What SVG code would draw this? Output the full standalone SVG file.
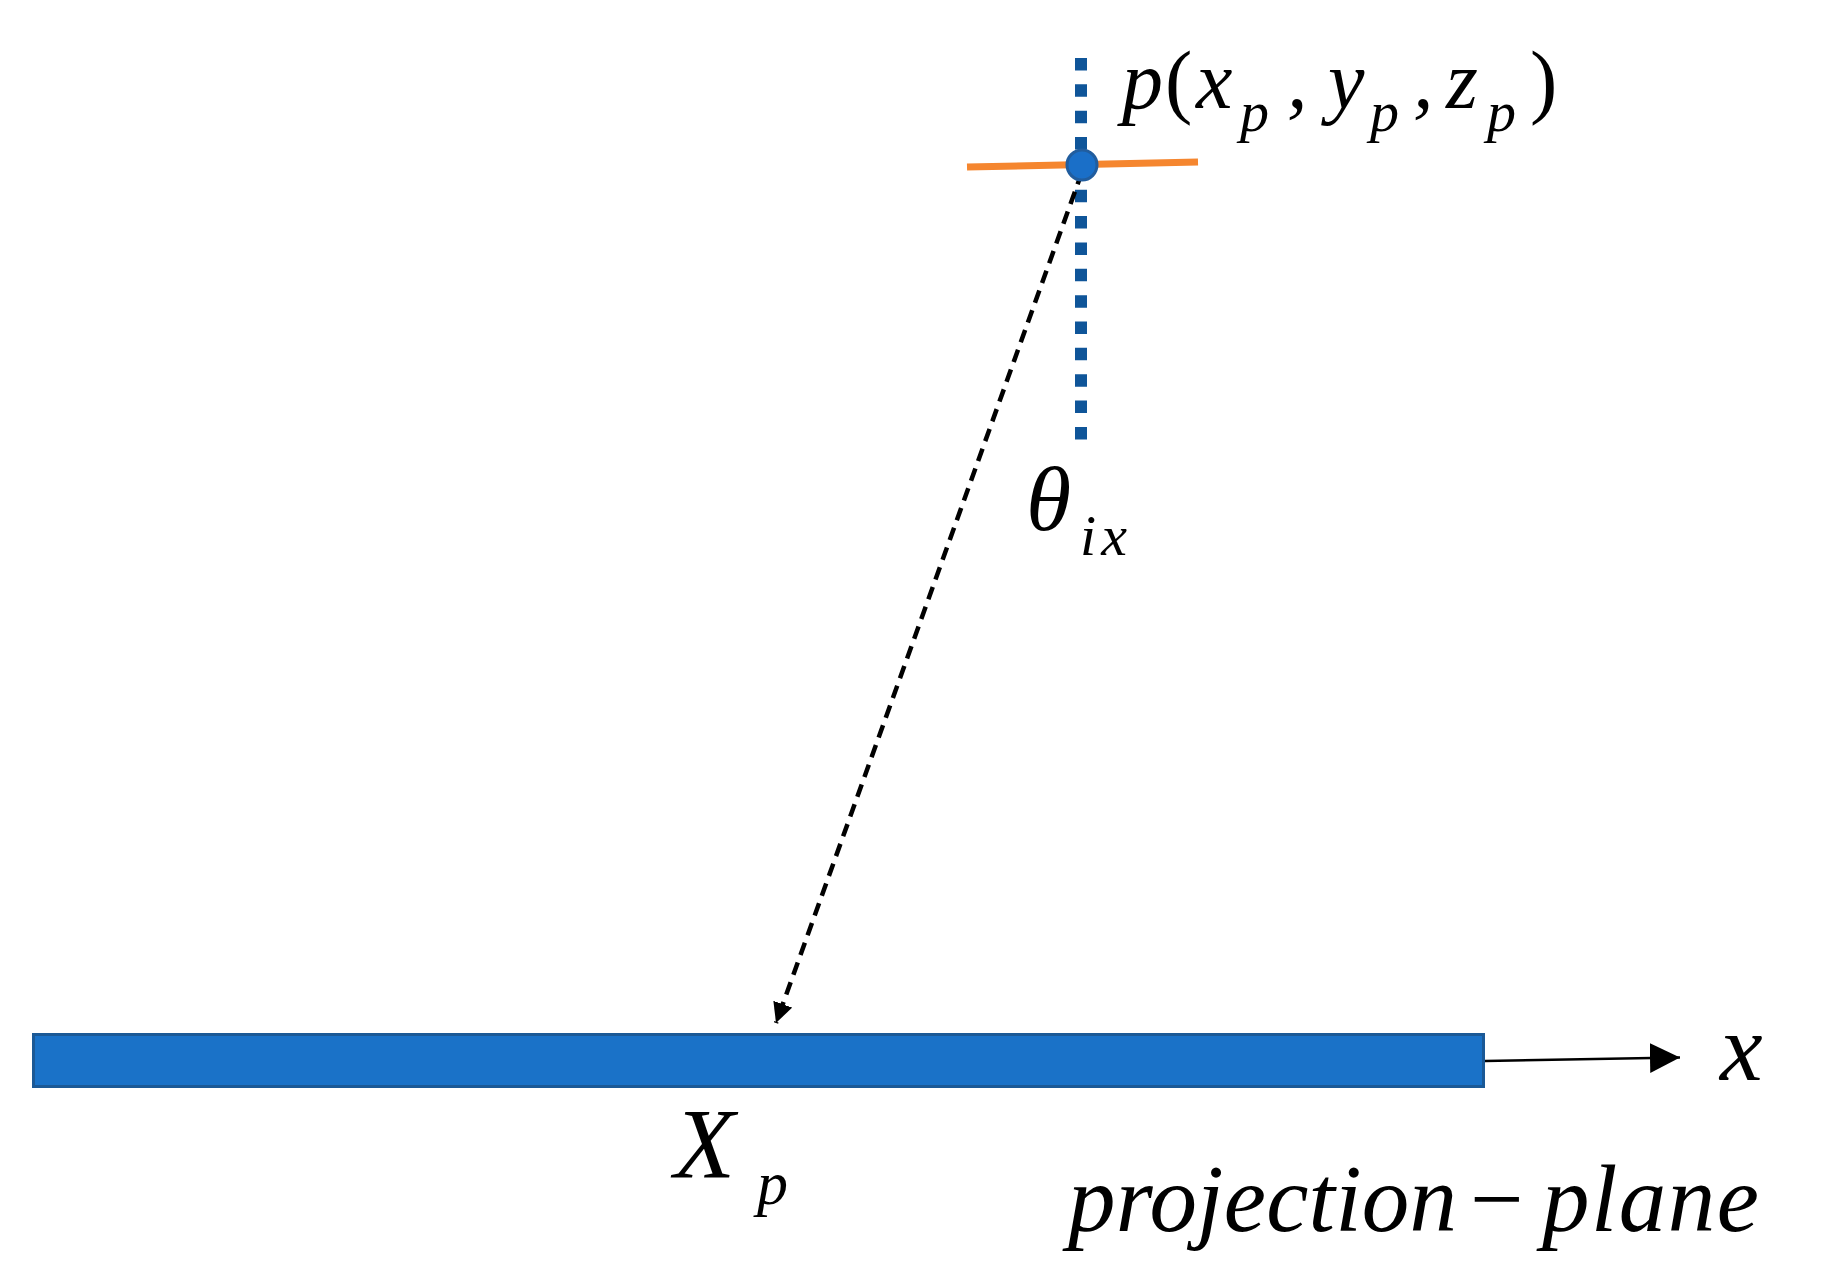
<svg xmlns="http://www.w3.org/2000/svg" width="1821" height="1282" viewBox="0 0 1821 1282">
<style>
.t{font-family:'Liberation Serif','DejaVu Serif',serif;font-style:italic;fill:#000}
.u{font-style:normal}
.m{font-size:82px}
.b{font-size:92px}
.s{font-size:58px}
</style>
<defs>
<marker id="ah" markerUnits="userSpaceOnUse" markerWidth="24" markerHeight="22" refX="20" refY="10" orient="auto">
<path d="M0,0 L20,10 L0,20 z" fill="#000"/>
</marker>
<marker id="ax" markerUnits="userSpaceOnUse" markerWidth="32" markerHeight="32" refX="30" refY="15" orient="auto">
<path d="M0,0 L30,15 L0,30 z" fill="#000"/>
</marker>
</defs>
<rect width="1821" height="1282" fill="#fff"/>
<g id="plane">
<rect x="33.5" y="1034.5" width="1450" height="52" fill="#1a72c8" stroke="#1b5996" stroke-width="3"/>
</g>
<g id="connectors">
<line x1="1081" y1="58" x2="1081" y2="440" stroke="#0f5599" stroke-width="12" stroke-dasharray="12.5 13.85"/>
<line x1="967" y1="167" x2="1198" y2="162" stroke="#f5862f" stroke-width="7"/>
<line x1="1082" y1="172" x2="776" y2="1023" stroke="#000" stroke-width="4.5" stroke-dasharray="13 8" marker-end="url(#ah)"/>
<line x1="1485" y1="1061" x2="1680" y2="1057.5" stroke="#000" stroke-width="2.5" marker-end="url(#ax)"/>
</g>
<g id="point">
<circle cx="1082" cy="165" r="15" fill="#1a6fc8" stroke="#215d9e" stroke-width="3"/>
</g>
<g id="label-p">
<text class="t m" y="108"><tspan x="1122">p</tspan><tspan class="u" x="1165">(</tspan><tspan x="1196">x</tspan><tspan x="1287">,</tspan><tspan x="1328">y</tspan><tspan x="1413">,</tspan><tspan x="1446">z</tspan><tspan class="u" x="1530">)</tspan></text>
<text class="t s" y="131"><tspan x="1240">p</tspan><tspan x="1370">p</tspan><tspan x="1487">p</tspan></text>
</g>
<g id="label-theta">
<text class="t b" x="1026" y="530">θ</text>
<text class="t s" x="1080" y="555" textLength="47" lengthAdjust="spacing">ix</text>
</g>
<g id="label-Xp">
<text class="t" font-size="100" x="674" y="1177">X</text>
<text class="t" font-size="62" x="757" y="1204">p</text>
</g>
<g id="label-x">
<text class="t" font-size="96" x="1720" y="1080">x</text>
</g>
<g id="label-projection">
<text class="t" font-size="95" y="1231"><tspan x="1068" textLength="389" lengthAdjust="spacing">projection</tspan><tspan class="u" x="1470">−</tspan><tspan x="1542" textLength="217" lengthAdjust="spacing">plane</tspan></text>
</g>
</svg>
